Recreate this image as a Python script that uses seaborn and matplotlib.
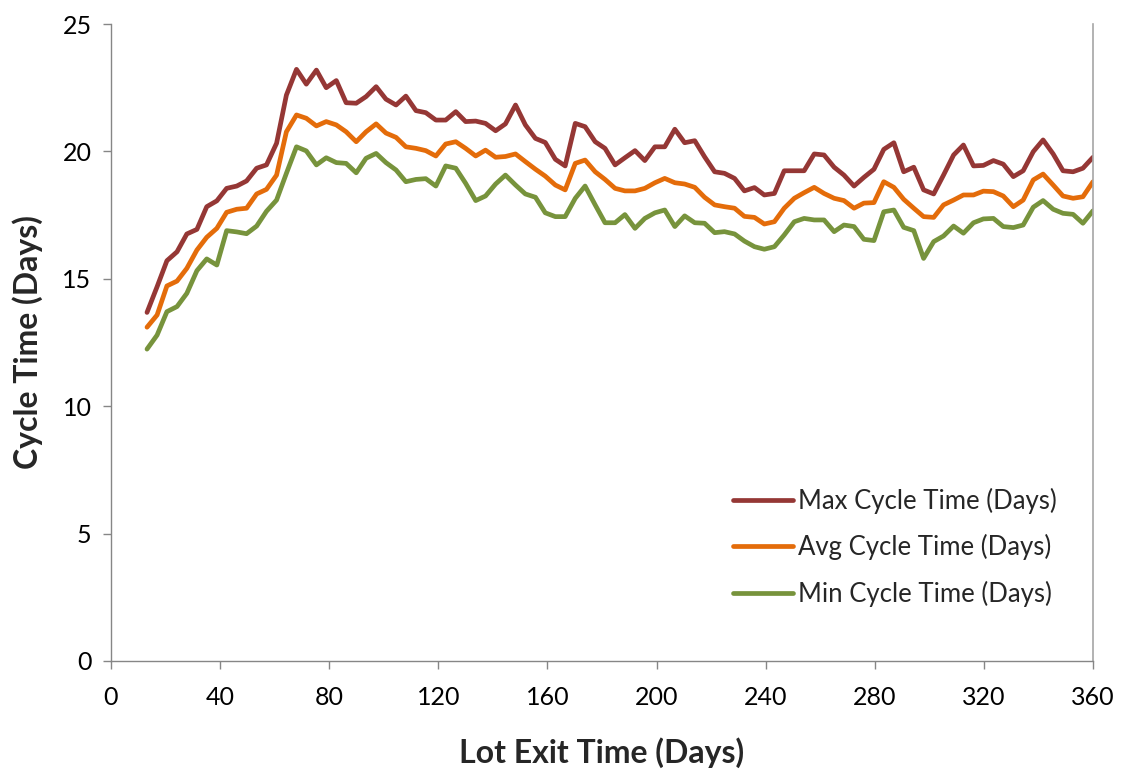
import numpy as np
import pandas as pd
import matplotlib
matplotlib.use("Agg")
import matplotlib.pyplot as plt
import seaborn as sns

days = [13.2, 16.9, 20.5, 24.2, 27.8, 31.5, 35.1, 38.8, 42.4, 46.1,
        49.7, 53.4, 57.0, 60.7, 64.3, 68.0, 71.6, 75.3, 78.9, 82.6,
        86.2, 89.9, 93.5, 97.2, 100.8, 104.5, 108.1, 111.8, 115.4, 119.1,
        122.7, 126.4, 130.0, 133.7, 137.3, 141.0, 144.6, 148.3, 151.9, 155.6,
        159.2, 162.9, 166.5, 170.2, 173.8, 177.5, 181.1, 184.8, 188.4, 192.1,
        195.7, 199.4, 203.0, 206.7, 210.3, 214.0, 217.6, 221.3, 224.9, 228.6,
        232.2, 235.9, 239.5, 243.2, 246.8, 250.5, 254.1, 257.8, 261.4, 265.1,
        268.7, 272.4, 276.0, 279.7, 283.3, 287.0, 290.6, 294.3, 297.9, 301.6,
        305.2, 308.9, 312.5, 316.2, 319.8, 323.5, 327.1, 330.8, 334.4, 338.1,
        341.7, 345.4, 349.0, 352.7, 356.3, 360.0]

max_ct = [13.68, 14.69, 15.71, 16.06, 16.76, 16.94, 17.83, 18.06, 18.55, 18.64,
          18.84, 19.34, 19.47, 20.32, 22.21, 23.22, 22.64, 23.19, 22.50, 22.78,
          21.91, 21.89, 22.15, 22.54, 22.05, 21.82, 22.17, 21.60, 21.52, 21.23,
          21.23, 21.56, 21.17, 21.19, 21.10, 20.81, 21.08, 21.82, 21.04, 20.51,
          20.35, 19.69, 19.43, 21.10, 20.97, 20.38, 20.12, 19.47, 19.75, 20.03,
          19.64, 20.18, 20.18, 20.87, 20.34, 20.42, 19.79, 19.20, 19.14, 18.94,
          18.45, 18.58, 18.29, 18.35, 19.24, 19.24, 19.24, 19.90, 19.86, 19.38,
          19.07, 18.64, 18.98, 19.30, 20.08, 20.34, 19.20, 19.38, 18.49, 18.33,
          19.07, 19.86, 20.25, 19.43, 19.45, 19.64, 19.50, 19.01, 19.24, 19.99,
          20.45, 19.90, 19.24, 19.20, 19.34, 19.77]

avg_ct = [13.10, 13.58, 14.72, 14.91, 15.41, 16.13, 16.63, 16.98, 17.61, 17.73,
          17.77, 18.33, 18.51, 19.07, 20.77, 21.43, 21.30, 21.00, 21.17, 21.04,
          20.77, 20.38, 20.77, 21.08, 20.72, 20.55, 20.18, 20.12, 20.03, 19.82,
          20.29, 20.38, 20.12, 19.82, 20.05, 19.77, 19.80, 19.90, 19.60, 19.30,
          19.03, 18.68, 18.49, 19.53, 19.66, 19.20, 18.90, 18.55, 18.45, 18.45,
          18.55, 18.77, 18.94, 18.77, 18.72, 18.59, 18.20, 17.90, 17.83, 17.77,
          17.45, 17.41, 17.15, 17.24, 17.77, 18.16, 18.38, 18.59, 18.35, 18.16,
          18.07, 17.77, 17.97, 17.99, 18.81, 18.59, 18.12, 17.77, 17.44, 17.41,
          17.90, 18.09, 18.29, 18.29, 18.44, 18.42, 18.25, 17.83, 18.09, 18.88,
          19.11, 18.68, 18.25, 18.16, 18.22, 18.81]

min_ct = [12.24, 12.79, 13.71, 13.91, 14.43, 15.32, 15.78, 15.54, 16.89, 16.84,
          16.77, 17.07, 17.65, 18.09, 19.14, 20.18, 20.02, 19.47, 19.75, 19.56,
          19.53, 19.16, 19.73, 19.92, 19.56, 19.27, 18.81, 18.90, 18.93, 18.64,
          19.43, 19.34, 18.75, 18.07, 18.25, 18.72, 19.07, 18.68, 18.33, 18.20,
          17.59, 17.44, 17.44, 18.16, 18.64, 17.90, 17.20, 17.20, 17.52, 16.98,
          17.37, 17.59, 17.70, 17.05, 17.47, 17.20, 17.18, 16.81, 16.85, 16.76,
          16.48, 16.26, 16.16, 16.26, 16.72, 17.24, 17.37, 17.31, 17.31, 16.85,
          17.11, 17.05, 16.55, 16.50, 17.63, 17.70, 17.02, 16.89, 15.80, 16.46,
          16.68, 17.07, 16.79, 17.20, 17.35, 17.37, 17.05, 17.01, 17.11, 17.81,
          18.07, 17.73, 17.57, 17.53, 17.18, 17.67]

series_names = ["Max Cycle Time (Days)", "Avg Cycle Time (Days)", "Min Cycle Time (Days)"]
colors = ["#953735", "#E46C0A", "#77933C"]
x_ticks = [0, 40, 80, 120, 160, 200, 240, 280, 320, 360]
y_ticks = [0, 5, 10, 15, 20, 25]

df = pd.concat([
    pd.DataFrame({"day": days, "value": vals, "series": name})
    for name, vals in zip(series_names, [max_ct, avg_ct, min_ct])
], ignore_index=True)

sns.set_theme(style="white")
plt.rcParams['font.family'] = ['Lato', 'DejaVu Sans']

fig = plt.figure(figsize=(11.23, 7.75), dpi=100)
ax = fig.add_axes([111/1123, 1 - 661/775, (1093-111)/1123, (661-24)/775])

sns.lineplot(data=df, x="day", y="value", hue="series", hue_order=series_names,
             palette=colors, linewidth=3.4, ax=ax, legend=True)

ax.set_xlim(0, 360)
ax.set_ylim(0, 25)
ax.set_xticks(x_ticks)
ax.set_yticks(y_ticks)
ax.tick_params(axis="both", which="both", direction="out", length=6, width=1,
               color="#868686", labelsize=18, labelcolor="black",
               bottom=True, left=True)
ax.tick_params(axis="x", pad=12)
ax.tick_params(axis="y", pad=8)

ax.spines["top"].set_visible(False)
ax.spines["right"].set_color("#A6A6A6")
ax.spines["right"].set_linewidth(1.2)
for side in ["left", "bottom"]:
    ax.spines[side].set_color("#868686")
    ax.spines[side].set_linewidth(1)

ax.set_xlabel("Lot Exit Time (Days)", fontsize=23, fontweight="bold", labelpad=20)
ax.set_ylabel("Cycle Time (Days)", fontsize=23, fontweight="bold", labelpad=14)

leg = ax.legend(loc="lower right", bbox_to_anchor=(1057/1123, 1 - 607/775),
                bbox_transform=fig.transFigure, frameon=False, borderpad=0,
                borderaxespad=0, fontsize=18.5, handlelength=2.35,
                handletextpad=0.2, labelspacing=0.8)
for line in leg.get_lines():
    line.set_linewidth(3.4)

fig.savefig("out.png", dpi=100)
